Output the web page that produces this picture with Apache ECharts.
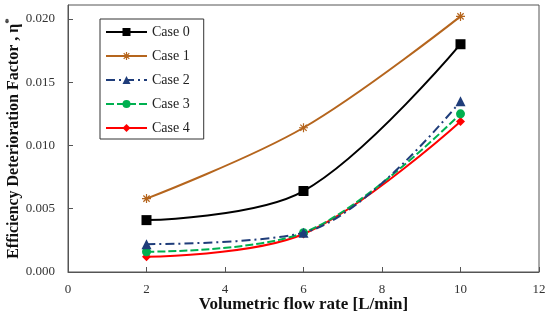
<!DOCTYPE html>
<html><head><meta charset="utf-8">
<script src="https://cdn.jsdelivr.net/npm/echarts@6/dist/echarts.min.js"></script>
<style>html,body{margin:0;padding:0;background:#fff}#c{width:550px;height:323px}</style>
</head><body><div id="c"></div>
<script>
const flowRates = [2, 6, 10];
const seriesNames = ['Case 0', 'Case 1', 'Case 2', 'Case 3', 'Case 4'];
const case0 = [0.0041, 0.0064, 0.0180];
const case1 = [0.0058, 0.0114, 0.0202];
const case2 = [0.0022, 0.0031, 0.0135];
const case3 = [0.0016, 0.0031, 0.0125];
const case4 = [0.0012, 0.0030, 0.0119];
const xTicks = [0, 2, 4, 6, 8, 10, 12];
const yTicks = [0.000, 0.005, 0.010, 0.015, 0.020];

const serif = 'Liberation Serif, Times New Roman, serif';
const pair = v => flowRates.map((x, i) => [x, v[i]]);
const star = 'path://M0,5L10,5M5,0L5,10M1.5,1.5L8.5,8.5M8.5,1.5L1.5,8.5';

const styles = [
  {color:'#000000', symbol:'rect', size:10, type:'solid'},
  {color:'#B5651D', symbol:star, size:9, type:'solid'},
  {color:'#1F3D7A', symbol:'triangle', size:10, type:[9,4,2,4]},
  {color:'#00B050', symbol:'circle', size:9, type:[8,3]},
  {color:'#FF0000', symbol:'diamond', size:9, type:'solid'}
];
const data = [case0, case1, case2, case3, case4];

const series = seriesNames.map((n, i) => {
  const s = styles[i];
  const isStar = i === 1;
  return {
    name: n, type: 'line', data: pair(data[i]), smooth: 0.35,
    symbol: s.symbol, symbolSize: s.size,
    lineStyle: {color: s.color, width: 2, type: s.type},
    itemStyle: isStar ? {color: 'rgba(0,0,0,0)', borderColor: s.color, borderWidth: 1.2} : {color: s.color, borderWidth: 0},
    emphasis: {disabled: true}, z: 5 - i
  };
});

const legendData = seriesNames.map((n, i) => i === 1
  ? {name: n, itemStyle: {color: 'rgba(0,0,0,0)', borderColor: styles[1].color, borderWidth: 1.2}}
  : {name: n});

const chart = echarts.init(document.getElementById('c'), null, {renderer:'canvas'});
chart.setOption({
  animation: false,
  backgroundColor: '#ffffff',
  grid: {left: 68, right: 11, top: 5, bottom: 51, show: true, borderColor: '#555', borderWidth: 1,
    containLabel: false, outerBoundsMode: 'none'},
  legend: {
    orient: 'vertical', left: 100, top: 19, data: legendData,
    itemWidth: 41, itemHeight: 10, itemGap: 10,
    padding: [6, 14, 4, 5],
    borderColor: '#333', borderWidth: 1, backgroundColor: '#fff',
    textStyle: {fontFamily: serif, fontSize: 14, color: '#222'}
  },
  xAxis: {
    type: 'value', min: 0, max: 12, interval: 2,
    name: 'Volumetric flow rate [L/min]', nameLocation: 'middle', nameGap: 24, nameMoveOverlap: false,
    nameTextStyle: {fontFamily: serif, fontSize: 17, fontWeight: 'bold', color: '#111'},
    axisLine: {show: true, lineStyle: {color: '#555'}},
    axisTick: {show: true, inside: true, length: 5, lineStyle: {color: '#555'}},
    axisLabel: {fontFamily: serif, fontSize: 13, color: '#333', margin: 11,
      formatter: v => xTicks.includes(v) ? String(v) : ''},
    splitLine: {show: false}
  },
  yAxis: {
    type: 'value', min: 0, max: 0.0211, interval: 0.005,
    name: '{b|Efficiency Deterioration Factor , η}{s|*}', nameLocation: 'middle', nameGap: 44, nameMoveOverlap: false,
    nameTextStyle: {rich: {
      b: {fontFamily: serif, fontSize: 16, fontWeight: 'bold', color: '#111'},
      s: {fontFamily: serif, fontSize: 11, fontWeight: 'bold', color: '#111', verticalAlign: 'top', padding:[0,0,9,0]}
    }},
    axisLine: {show: true, lineStyle: {color: '#555'}},
    axisTick: {show: true, inside: true, length: 5, lineStyle: {color: '#555'}},
    axisLabel: {fontFamily: serif, fontSize: 13, color: '#333', margin: 13, showMaxLabel: false,
      formatter: v => { const t = yTicks.find(y => Math.abs(y - v) < 1e-9); return t === undefined ? '' : t.toFixed(3); }},
    splitLine: {show: false}
  },
  series: series
});
</script></body></html>
